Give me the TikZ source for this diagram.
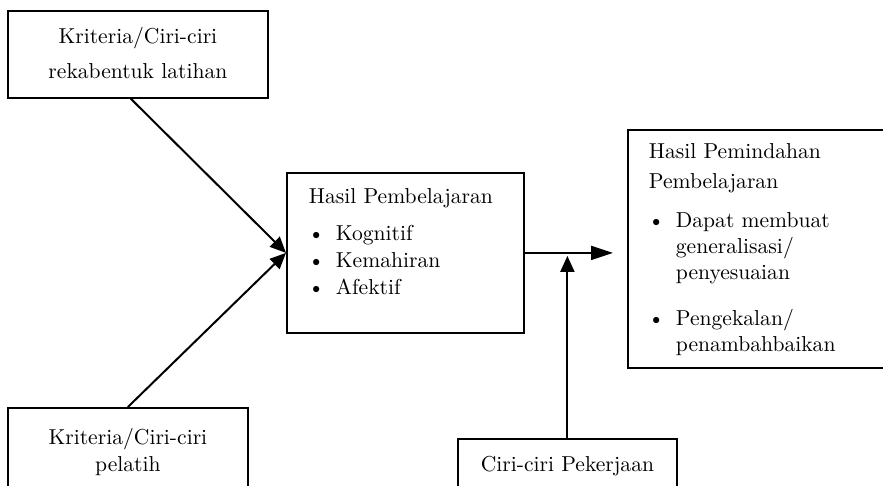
\documentclass[tikz,border=0pt]{standalone}
\usetikzlibrary{arrows.meta, positioning}

\newcommand{\bul}{\makebox[13.5pt][l]{\hspace{-0.5pt}\textbullet}}

\begin{document}
\begin{tikzpicture}[x=1pt, y=-1pt,
    box/.style={draw, line width=0.9pt, inner ysep=0pt, anchor=north west, font=\fontsize{10.8}{13.5}\selectfont},
    arr/.style={-{Triangle[length=8pt, width=7pt]}, line width=1pt}]
  \clip (0,0) rectangle (441.5,243);
  % kotak kiri
  \node[box, inner xsep=0pt] (latihan) at (3.5,5)
    {\begin{minipage}[t][43.5pt][t]{130pt}\vspace*{8pt}\centering
     Kriteria/Ciri-ciri\\[4pt]rekabentuk latihan\end{minipage}};
  \node[box, inner xsep=0pt] (pelatih) at (3.5,203.5)
    {\begin{minipage}[t][46.5pt][t]{120pt}\vspace*{10pt}\centering
     Kriteria/Ciri-ciri\\pelatih\end{minipage}};
  % kotak tengah
  \node[box, inner xsep=11pt] (hasil) at (143,86)
    {\begin{minipage}[t][80pt][t]{96.5pt}\vspace*{8pt}
     Hasil Pembelajaran\\[5pt]
     \bul Kognitif\\
     \bul Kemahiran\\
     \bul Afektif\end{minipage}};
  % kotak kanan
  \node[box, inner xsep=10.5pt] (pindah) at (313.5,64.5)
    {\begin{minipage}[t][119pt][t]{130pt}\vspace*{7pt}\baselineskip=13pt
     Hasil Pemindahan\\[2pt]
     Pembelajaran\\[6.5pt]
     \bul Dapat membuat\\
     \hspace*{13.5pt}generalisasi/\\
     \hspace*{13.5pt}penyesuaian\\[10pt]
     \bul Pengekalan/\\
     \hspace*{13.5pt}penambahbaikan\end{minipage}};
  \node[box, inner xsep=0pt] (kerja) at (228.5,219)
    {\begin{minipage}[t][31pt][t]{109.5pt}\vspace*{8.5pt}\centering
     Ciri-ciri Pekerjaan\end{minipage}};
  % anak panah
  \draw[arr] ([xshift=-3.5pt]latihan.south) -- (hasil.west);
  \draw[arr] (pelatih.north) -- (hasil.west);
  \draw[arr, -{Triangle[length=11pt, width=7pt]}, shorten >=7pt] (hasil.east) -- (hasil.east -| pindah.west);
  \draw[arr, shorten >=1.5pt] (kerja.north) -- (kerja.north |- hasil.east);
\end{tikzpicture}
\end{document}
